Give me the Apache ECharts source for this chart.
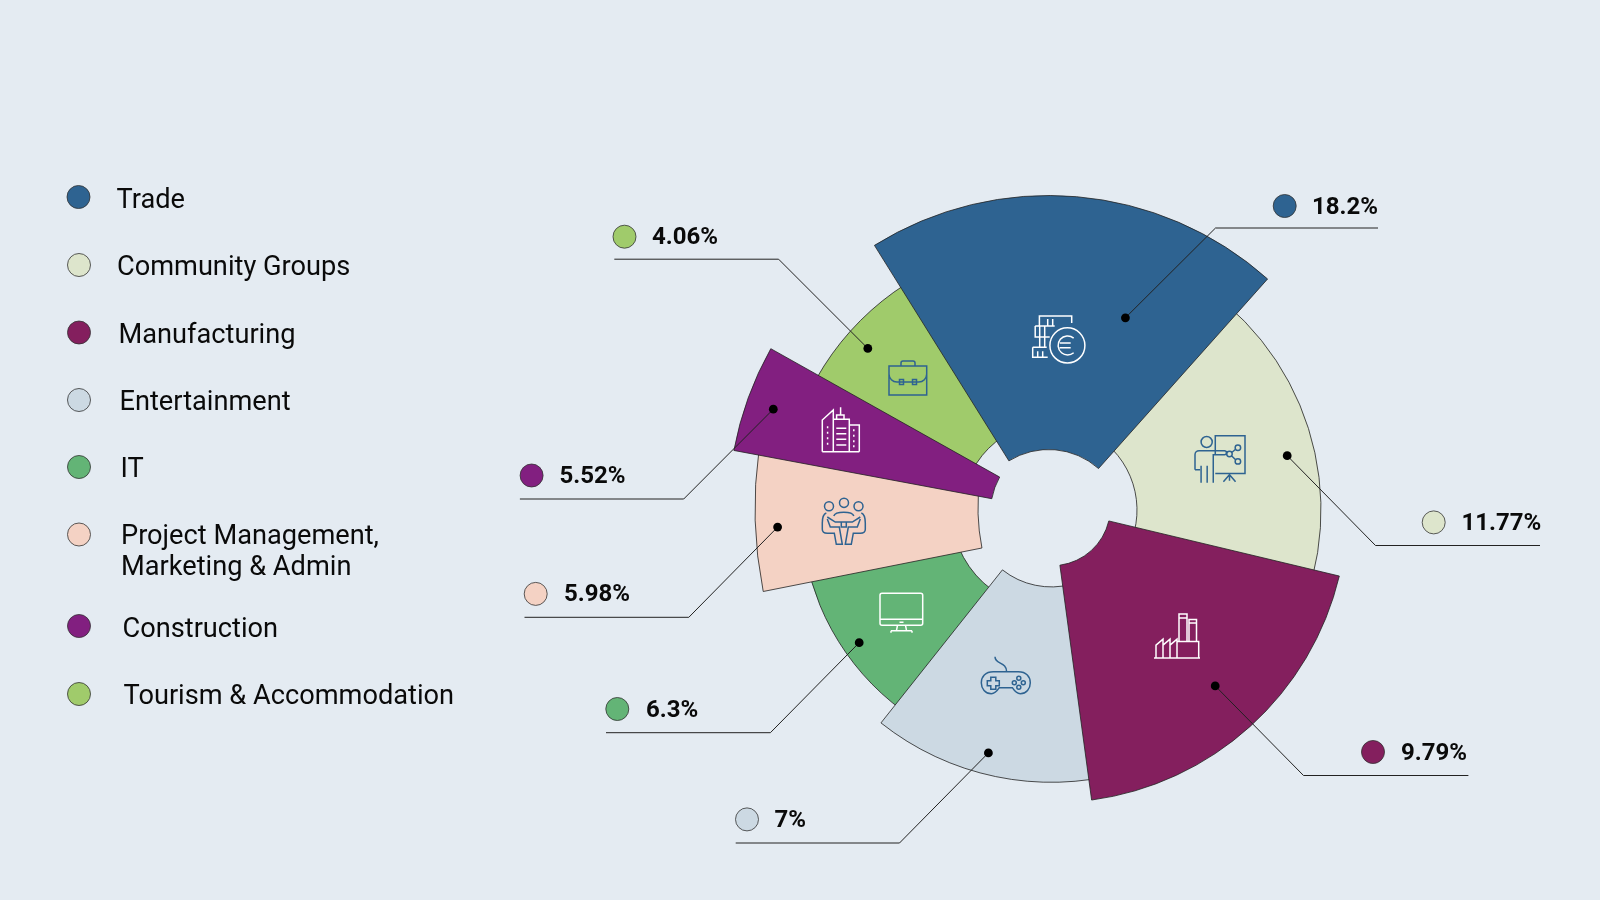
<!DOCTYPE html>
<html>
<head>
<meta charset="utf-8">
<style>
  html, body { margin: 0; background: #e4ebf2; }
  #main { width: 1600px; height: 900px; }
</style>
<script src="https://cdn.jsdelivr.net/npm/echarts@6/dist/echarts.min.js"></script>
</head>
<body>
<div id="main"></div>
<script>
var categories = ['Trade', 'Community Groups', 'Manufacturing', 'Entertainment', 'IT',
  'Project Management,\nMarketing & Admin', 'Construction', 'Tourism & Accommodation'];
var values = [18.2, 11.77, 9.79, 7, 6.3, 5.98, 5.52, 4.06];
var colors = ['#2e6391', '#dde5cc', '#841f5e', '#ccd9e3', '#63b476', '#f4d2c4', '#821f80', '#a0cb6b'];

// every slice is its own sector: own centre, radii and angles
var sliceCenter = [[1048.6, 524.5], [1050, 510], [1052.1, 507.4], [1051.3, 508.3], [1050, 510], [1183, 508], [1061.4, 511.7], [1050, 510]];
var sliceRadius = [[75, 329], [87, 271], [58.3, 295.3], [78.6, 274], [98.6, 249], [205, 428], [70.8, 333.2], [87, 268]];
var sliceAngles = [[121.96, 48.27], [60, -25], [-13.44, -82.31], [285, 231.56], [240, 190], [191.25, 172], [169.41, 150.71], [160, 110]];
var sliceZ = [9, 3, 8, 5, 2, 6, 7, 1];

// legend rows
var legendDot = [[78.5, 197], [79, 265], [79, 332.5], [79, 400], [79, 467], [79, 534.5], [79, 626], [79, 694]];
var legendText = [[116.5, 201], [117, 268], [118.5, 336], [119.5, 403.5], [120.5, 470], [121, 552.5], [122.5, 630], [123.5, 697]];

// callouts: dot on the slice, elbow, end of the rule, bullet and text start
var calloutDot = [[1125.4, 317.8], [1287.2, 455.7], [1215.2, 685.9], [988.4, 752.9], [859.2, 642.7], [777.6, 527.1], [773.3, 409.2], [867.8, 348.4]];
var calloutElbow = [[1215.5, 228], [1375.5, 545.5], [1303.5, 775.5], [899.5, 843], [770.4, 732.7], [688.8, 617.3], [683.7, 499], [778.6, 259.2]];
var calloutEnd = [[1378, 228], [1540, 545.5], [1468.4, 775.5], [735.7, 843], [606, 732.7], [524.5, 617.3], [519.9, 499], [614.3, 259.2]];
var calloutBullet = [[1284.7, 206], [1433.7, 522.4], [1373, 752], [747, 819.4], [617.3, 709], [535.7, 593.9], [531.6, 475.5], [624.5, 236.7]];
var calloutTextX = [1312, 1461.5, 1401, 774.5, 646, 564, 559.5, 652];

// line icons, one per slice: box on the page and a path stretched into it
var iconAt = [[1032.7, 316], [1195, 435.7], [1154, 614], [981.3, 656.7], [880, 593.3], [822.3, 498.3], [822.3, 407.3], [889, 361]];
var iconSize = [[52.2, 47], [50, 47], [46, 44], [49, 37], [42.7, 39.4], [43, 46], [37, 44.4], [37.7, 34]];
var iconColor = ['#fff', '#2e6391', '#fff', '#2e6391', '#fff', '#2e6391', '#fff', '#2e6391'];
var iconPath = [
  'M52.2 29.3a17.5 17.5 0 1 1-35 0a17.5 17.5 0 1 1 35 0M41 22a9.5 9.5 0 1 0 0 14.6M27 27H38M27 31.5H38' +
    'M6.7 10V0H39V7M15 3V10M20 3V10M2.5 10H22M2.5 10V21H17M7 10V31M12 10V31M0 31H14M0 31V41H15M5 35V41M10 35V41',
  'M17 6.3a5.5 5.5 0 1 1-11 0a5.5 5.5 0 1 1 11 0M20 19V0H49.3V37.7H20M45 12a2.7 2.7 0 1 1-5.4 0a2.7 2.7 0 1 1 5.4 0' +
    'M36.7 18.3a2.7 2.7 0 1 1-5.4 0a2.7 2.7 0 1 1 5.4 0M45 25.7a2.7 2.7 0 1 1-5.4 0a2.7 2.7 0 1 1 5.4 0M36 17L40 13.5M36 20L40 24' +
    'M0 34V19a4 4 0 0 1 4-4H29a2 2 0 0 1 0 4H18V47M6 47V30M12 47V30M0 34H5M34 38V45M28 46L34 39L40 46',
  'M0 43.8H46M2 43.8V31L9 25V43.8M9 31L16 25V43.8M16 31L23 25V43.8M23 27.4H44.7V43.8M25 27.4V0H33V27.4M25 4H33M35 27.4V5.5H42.5V27.4M35 9H42.5',
  'M13.7 0C13.7 8 25.3 5 25.3 15M12 15H37C45 15 49 20 49 26C49 32 45 37 39 37C35 37 33 34 31 31H18C16 34 14 37 10 37C4 37 0 32 0 26C0 20 4 15 12 15Z' +
    'M9.5 20.5h5v3.5h3.5v5h-3.5v3.5h-5v-3.5h-3.5v-5h3.5zM39.5 21.5a2 2 0 1 1-4 0a2 2 0 1 1 4 0M39.5 30.5a2 2 0 1 1-4 0a2 2 0 1 1 4 0' +
    'M35 26a2 2 0 1 1-4 0a2 2 0 1 1 4 0M44 26a2 2 0 1 1-4 0a2 2 0 1 1 4 0',
  'M2 0H40.7a2 2 0 0 1 2 2V30a2 2 0 0 1-2 2H2a2 2 0 0 1-2-2V2a2 2 0 0 1 2-2ZM0 26H42.7M19.5 29H23.5M17.5 32L16.5 37M25.5 32L26.5 37M11 37.5H32M11 37.5V39.4M32 37.5V39.4',
  'M11.2 8.3a4.5 4.5 0 1 1-9 0a4.5 4.5 0 1 1 9 0M26.2 5a4.5 4.5 0 1 1-9 0a4.5 4.5 0 1 1 9 0M40.7 8.3a4.5 4.5 0 1 1-9 0a4.5 4.5 0 1 1 9 0' +
    'M11.5 18C13 13 30 13 31.5 18M5 19L13 24H30L38 19M19 24V29H24V24' +
    'M4 15C1 16 0 20 0 25V31C0 34 2 35 5 35H12L14 46H20L17 29H8L5 21' +
    'M39 15C42 16 43 20 43 25V31C43 34 41 35 38 35H31L29 46H23L26 29H35L38 21',
  'M0 44.4V12.7L11 2.7V44.4M0 44.4H37M11 12H27V44.4M14.3 12V7.7H21.7V12M18.3 7.7V0M27 17.7H37V44.4M14 21H24M14 26.5H24M14 32H24M14 37.7H24' +
    'M5.3 19v2M5.3 24.5v2M5.3 30v2M5.3 35.5v2M31.5 22v2M31.5 27.5v2M31.5 33v2M31.5 38v2',
  'M0 5H37.7V34H0ZM12 5V2a2 2 0 0 1 2-2H24a2 2 0 0 1 2 2V5M0 13a8 8 0 0 0 8 8H29.7a8 8 0 0 0 8-8M10.5 18.5h4v5h-4zM23.5 18.5h4v5h-4z'
];

var font = 'Roboto, "Noto Sans", sans-serif';
var series = [];
var elements = [];

for (var i = 0; i < values.length; i++) {
  series.push({
    type: 'pie',
    name: categories[i],
    center: sliceCenter[i],
    radius: sliceRadius[i],
    startAngle: sliceAngles[i][0],
    endAngle: sliceAngles[i][1],
    z: sliceZ[i],
    silent: true,
    animation: false,
    label: { show: false },
    labelLine: { show: false },
    itemStyle: { color: colors[i], borderColor: '#222', borderWidth: 0.8 },
    data: [{ name: categories[i], value: values[i] }]
  });

  // legend
  elements.push({
    type: 'circle', z: 50, silent: true,
    shape: { cx: legendDot[i][0], cy: legendDot[i][1], r: 11.5 },
    style: { fill: colors[i], stroke: '#333', lineWidth: 0.8 }
  });
  elements.push({
    type: 'text', z: 50, silent: true,
    x: legendText[i][0], y: legendText[i][1],
    style: { text: categories[i], font: '27.2px ' + font, fill: '#0a0a0a', verticalAlign: 'middle', lineHeight: 31 }
  });

  // callout
  elements.push({
    type: 'polyline', z: 51, silent: true,
    shape: { points: [calloutDot[i], calloutElbow[i], calloutEnd[i]] },
    style: { fill: null, stroke: '#222', lineWidth: 1 }
  });
  elements.push({
    type: 'circle', z: 52, silent: true,
    shape: { cx: calloutDot[i][0], cy: calloutDot[i][1], r: 4.4 },
    style: { fill: '#000' }
  });
  elements.push({
    type: 'circle', z: 50, silent: true,
    shape: { cx: calloutBullet[i][0], cy: calloutBullet[i][1], r: 11.5 },
    style: { fill: colors[i], stroke: '#333', lineWidth: 0.8 }
  });
  elements.push({
    type: 'text', z: 50, silent: true,
    x: calloutTextX[i], y: calloutBullet[i][1] + 1.5,
    style: { text: values[i] + '%', font: 'bold 24px ' + font, fill: '#0a0a0a', verticalAlign: 'middle' }
  });
}

// icons go through a custom series, the graphic component has no free path type
series.push({
  type: 'custom',
  coordinateSystem: 'none',
  z: 20,
  silent: true,
  animation: false,
  data: values.map(function (v, k) { return k; }),
  renderItem: function (params) {
    var k = params.dataIndex;
    return {
      type: 'path',
      shape: {
        pathData: iconPath[k],
        x: iconAt[k][0], y: iconAt[k][1],
        width: iconSize[k][0], height: iconSize[k][1],
        layout: 'cover'
      },
      style: { fill: null, stroke: iconColor[k], lineWidth: 1.5 }
    };
  }
});

var chart = echarts.init(document.getElementById('main'));
chart.setOption({
  backgroundColor: '#e4ebf2',
  animation: false,
  tooltip: { show: false },
  series: series,
  graphic: { elements: elements }
});
</script>
</body>
</html>
